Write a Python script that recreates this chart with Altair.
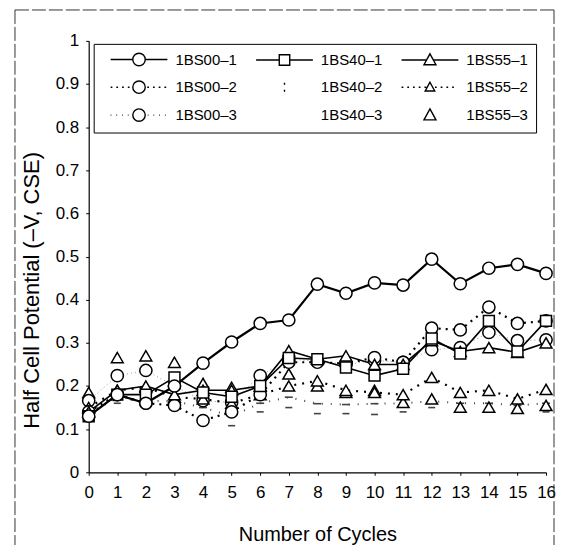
import altair as alt
import pandas as pd

# ---------------- data ----------------
cycles = list(range(17))
series_names = ["1BS00–1", "1BS00–2", "1BS00–3",
                "1BS40–1", "1BS40–2", "1BS40–3",
                "1BS55–1", "1BS55–2", "1BS55–3"]

s00_1 = [0.13, 0.18, 0.16, 0.20, 0.253, 0.302, 0.345, 0.353, 0.436, 0.415, 0.439, 0.434, 0.494, 0.437, 0.473, 0.482, 0.461]
s00_2 = [0.14, 0.18, 0.16, 0.155, 0.12, 0.14, 0.18, 0.255, 0.255, 0.252, 0.266, 0.255, 0.334, 0.33, 0.383, 0.345, 0.351]
s00_3 = [0.166, 0.224, 0.236, 0.20, 0.166, 0.162, 0.224, 0.262, 0.258, 0.25, 0.259, 0.255, 0.284, 0.289, 0.324, 0.305, 0.307]
s40_1 = [0.13, 0.18, 0.18, 0.22, 0.185, 0.175, 0.20, 0.265, 0.262, 0.243, 0.224, 0.24, 0.31, 0.275, 0.351, 0.28, 0.351]
s40_2 = [0.14, 0.17, 0.165, 0.165, 0.15, 0.13, 0.16, 0.174, 0.159, 0.157, 0.159, 0.16, 0.165, 0.16, 0.16, 0.155, 0.16]
s40_3 = [0.13, 0.16, 0.155, 0.15, 0.13, 0.108, 0.14, 0.15, 0.136, 0.136, 0.134, 0.14, 0.15, 0.14, 0.14, 0.14, 0.14]
s55_1 = [0.14, 0.19, 0.20, 0.18, 0.19, 0.19, 0.20, 0.282, 0.262, 0.27, 0.25, 0.25, 0.305, 0.28, 0.289, 0.278, 0.30]
s55_2 = [0.15, 0.19, 0.197, 0.174, 0.17, 0.16, 0.18, 0.20, 0.212, 0.19, 0.185, 0.18, 0.22, 0.185, 0.19, 0.17, 0.192]
s55_3 = [0.185, 0.266, 0.27, 0.255, 0.206, 0.197, 0.20, 0.228, 0.20, 0.185, 0.19, 0.162, 0.17, 0.151, 0.151, 0.148, 0.155]

y_ticks = [0, 0.1, 0.2, 0.3, 0.4, 0.5, 0.6, 0.7, 0.8, 0.9, 1]

all_values = [s00_1, s00_2, s00_3, s40_1, s40_2, s40_3, s55_1, s55_2, s55_3]
rows = []
for name, vals in zip(series_names, all_values):
    for c, v in zip(cycles, vals):
        rows.append({"series": name, "cycle": c, "value": v})
df = pd.DataFrame(rows)

FONT = "Liberation Sans"

# ---------------- styles ----------------
line_styles = {
    "1BS00–1": dict(color="black", strokeWidth=2.2),
    "1BS00–2": dict(color="black", strokeWidth=2.2, strokeDash=[2, 5]),
    "1BS00–3": dict(color="#9a9a9a", strokeWidth=1.0, strokeDash=[1, 3]),
    "1BS40–1": dict(color="black", strokeWidth=1.6),
    "1BS40–2": dict(color="#444444", strokeWidth=2.0, strokeDash=[1, 8]),
    "1BS55–1": dict(color="black", strokeWidth=1.6),
    "1BS55–2": dict(color="black", strokeWidth=2.2, strokeDash=[2, 6]),
}
marker_styles = {
    "1BS00–1": dict(shape="circle", size=150),
    "1BS00–2": dict(shape="circle", size=150),
    "1BS00–3": dict(shape="circle", size=150),
    "1BS40–1": dict(shape="square", size=120),
    "1BS40–2": dict(shape="stroke", size=64),
    "1BS40–3": dict(shape="stroke", size=49),
    "1BS55–1": dict(shape="triangle-up", size=140),
    "1BS55–2": dict(shape="triangle-up", size=140),
    "1BS55–3": dict(shape="triangle-up", size=140),
}

x_enc = alt.X("cycle:Q", scale=alt.Scale(domain=[0, 16], nice=False, zero=False),
              axis=alt.Axis(values=cycles, title="Number of Cycles", grid=False,
                            labelFlush=False, tickSize=3, labelPadding=9, titlePadding=24))
y_enc = alt.Y("value:Q", scale=alt.Scale(domain=[0, 1], nice=False),
              axis=alt.Axis(values=y_ticks, format=".1~f", title="Half Cell Potential (–V, CSE)",
                            labelFlush=False, grid=False, tickSize=3, labelPadding=7,
                            titlePadding=12, titleFontSize=22, titleY=250))

base = alt.Chart(df)
layers = []

# outer chart frame (decoration)
one = alt.Data(values=[{"k": 1}])
frame_style = dict(color="#333333", strokeWidth=1, strokeDash=[14, 3])
layers.append(alt.Chart(one).mark_rule(**frame_style).encode(
    x=alt.value(-74), y=alt.value(-31), y2=alt.value(506)))
layers.append(alt.Chart(one).mark_rule(**frame_style).encode(
    x=alt.value(467), y=alt.value(-31), y2=alt.value(506)))
layers.append(alt.Chart(one).mark_rule(**frame_style).encode(
    x=alt.value(-74), x2=alt.value(467), y=alt.value(-31)))

line_order = ["1BS00–3", "1BS40–2", "1BS55–2", "1BS00–2", "1BS55–1", "1BS40–1", "1BS00–1"]
for name in line_order:
    st = line_styles[name]
    layers.append(base.transform_filter(alt.datum.series == name)
                  .mark_line(**st).encode(x=x_enc, y=y_enc))

marker_order = ["1BS40–3", "1BS40–2", "1BS55–3", "1BS00–3", "1BS55–2", "1BS00–2",
                "1BS55–1", "1BS40–1", "1BS00–1"]
for name in marker_order:
    st = marker_styles[name]
    if st["shape"] == "stroke":
        mk = base.transform_filter(alt.datum.series == name).mark_point(
            shape="stroke", size=st["size"], filled=False, stroke="#444444",
            strokeWidth=1.6, opacity=1)
    else:
        mk = base.transform_filter(alt.datum.series == name).mark_point(
            shape=st["shape"], size=st["size"], filled=True, fill="white",
            stroke="black", strokeWidth=1.5, opacity=1)
    layers.append(mk.encode(x=x_enc, y=y_enc))

# ---------------- legend symbols (line + marker glyphs) ----------------
L = 5.7


def seg_line(r, seg=None, gap=None):
    if seg is None:
        return f"M{-L},0 L{-r},0 M{r},0 L{L},0 "
    out = ""
    a = -L
    while a + seg <= -r:
        out += f"M{a:.2f},0 L{a + seg:.2f},0 "
        a += seg + gap
    a = r + gap * 0.5
    while a + seg <= L:
        out += f"M{a:.2f},0 L{a + seg:.2f},0 "
        a += seg + gap
    return out


def circ(r):
    return f"M{r},0 A{r},{r} 0 1,1 {-r},0 A{r},{r} 0 1,1 {r},0 "


def sq(h):
    return f"M{-h},{-h} L{h},{-h} L{h},{h} L{-h},{h} Z "


def tri(s=1.0):
    return f"M0,{-1.25 * s:.2f} L{1.2 * s:.2f},{0.95 * s:.2f} L{-1.2 * s:.2f},{0.95 * s:.2f} Z "


# legend fills column by column: column 1 = 1BS00, column 2 = 1BS40, column 3 = 1BS55
legend_order = series_names
glyphs = {
    "1BS00–1": seg_line(1.25) + circ(1.25),
    "1BS00–2": seg_line(1.25, 0.35, 0.8) + circ(1.25),
    "1BS00–3": seg_line(1.25, 0.15, 1.0) + circ(1.25),
    "1BS40–1": seg_line(1.05) + sq(1.05),
    "1BS40–2": "M0,-0.9 L0,-0.5 M0,0.5 L0,0.9",
    "1BS40–3": "M0,0 L0,0",
    "1BS55–1": seg_line(0.7) + tri(),
    "1BS55–2": seg_line(0.6, 0.35, 0.8) + tri(0.8),
    "1BS55–3": tri(),
}
legend_paths = [glyphs[n] for n in legend_order]

legend_layer = base.transform_filter("datum.value > 5").mark_point(
    filled=False, color="black", strokeWidth=1.4, opacity=1).encode(
    x=x_enc, y=y_enc,
    shape=alt.Shape("series:N",
                    scale=alt.Scale(domain=legend_order, range=legend_paths),
                    legend=alt.Legend(title=None, orient="none", legendX=5, legendY=3,
                                      columns=3, direction="vertical",
                                      symbolSize=100, symbolStrokeWidth=1.4,
                                      symbolOffset=30, labelOffset=29,
                                      labelFont=FONT, labelFontSize=15, labelColor="black",
                                      labelLimit=200,
                                      rowPadding=9, columnPadding=10,
                                      padding=8, strokeColor="black", fillColor="white")))
layers.append(legend_layer)

chart = alt.layer(*layers).properties(
    width=459, height=433,
    padding={"left": 6, "top": 0, "right": 0, "bottom": 0},
).configure_view(stroke=None).configure_axis(
    labelFont=FONT, labelFontSize=17, labelColor="black",
    titleFont=FONT, titleFontSize=20, titleFontWeight="normal", titleColor="black",
    domainColor="black", domainWidth=1.2, tickColor="black",
)

chart.save("out.html", embed_options={"renderer": "svg", "actions": False})
